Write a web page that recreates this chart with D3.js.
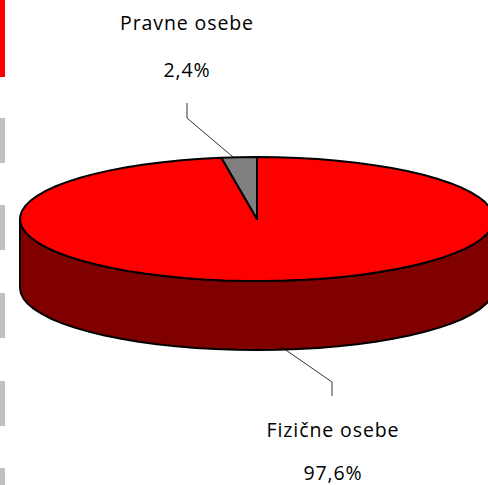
<!DOCTYPE html>
<html><head><meta charset="utf-8">
<script src="https://cdn.jsdelivr.net/npm/d3@7"></script>
<style>html,body{margin:0;padding:0;background:#fff;}svg{display:block;}</style>
</head><body>
<script>
const categories = ["Fizične osebe", "Pravne osebe"];
const values = [97.6, 2.4];
const valueLabels = ["97,6%", "2,4%"];
const colorsTop = ["#ff0000", "#808080"];
const colorsSide = ["#800000", "#404040"];

const W = 488, H = 485;
const svg = d3.select("body").append("svg").attr("width", W).attr("height", H);

// left decoration bars
svg.append("rect").attr("x", 0).attr("y", 0).attr("width", 5).attr("height", 77).attr("fill", "#ff0000");
[118, 205, 293, 381, 468].forEach(y => {
  svg.append("rect").attr("x", 0).attr("y", y).attr("width", 5).attr("height", 45).attr("fill", "#c0c0c0");
});

const cx = 257, cy = 219, rx = 237, ry = 62, depth = 69;
const pie = d3.pie().sort(null).value(d => d)(values);

function pt(a, dy) { return [cx + rx * Math.sin(a), cy - ry * Math.cos(a) + (dy || 0)]; }
function arcPts(a0, a1, dy) {
  const n = Math.max(2, Math.ceil(Math.abs(a1 - a0) / (2 * Math.PI) * 72));
  const s = d3.scaleLinear().domain([0, n]).range([a0, a1]);
  return d3.range(n + 1).map(i => pt(s(i), dy));
}
const line = d3.line();

// sides (front half only)
pie.forEach((p, i) => {
  const a0 = Math.max(p.startAngle, Math.PI / 2), a1 = Math.min(p.endAngle, 3 * Math.PI / 2);
  if (a1 <= a0) return;
  const pts = arcPts(a0, a1, 0).concat(arcPts(a1, a0, depth));
  svg.append("path").attr("d", line(pts) + "Z").attr("fill", colorsSide[i])
    .attr("stroke", "#000").attr("stroke-width", 2).attr("stroke-linejoin", "round");
});

// tops
pie.forEach((p, i) => {
  const pts = [[cx, cy]].concat(arcPts(p.startAngle, p.endAngle, 0));
  svg.append("path").attr("d", line(pts) + "Z").attr("fill", colorsTop[i])
    .attr("stroke", "#000").attr("stroke-width", 2).attr("stroke-linejoin", "round");
});

// leader lines
const leaders = [
  [[280, 346], [332, 382], [332, 396]],
  [[233, 157], [187, 118], [187, 103]]
];
leaders.forEach(l => svg.append("path").attr("d", line(l)).attr("fill", "none")
  .attr("stroke", "#000").attr("stroke-width", 0.8));

// labels
const labelPos = [[333, 437, 480], [187, 30, 77]];
categories.forEach((c, i) => {
  svg.append("text").attr("x", labelPos[i][0]).attr("y", labelPos[i][1]).attr("text-anchor", "middle")
    .attr("font-family", "Open Sans, sans-serif").attr("font-size", 19.5).attr("letter-spacing", 0.9)
    .attr("fill", "#000").text(c);
  svg.append("text").attr("x", labelPos[i][0]).attr("y", labelPos[i][2]).attr("text-anchor", "middle")
    .attr("font-family", "Open Sans, sans-serif").attr("font-size", 19.5).attr("letter-spacing", 0.9)
    .attr("fill", "#000").text(valueLabels[i]);
});
</script>
</body></html>
